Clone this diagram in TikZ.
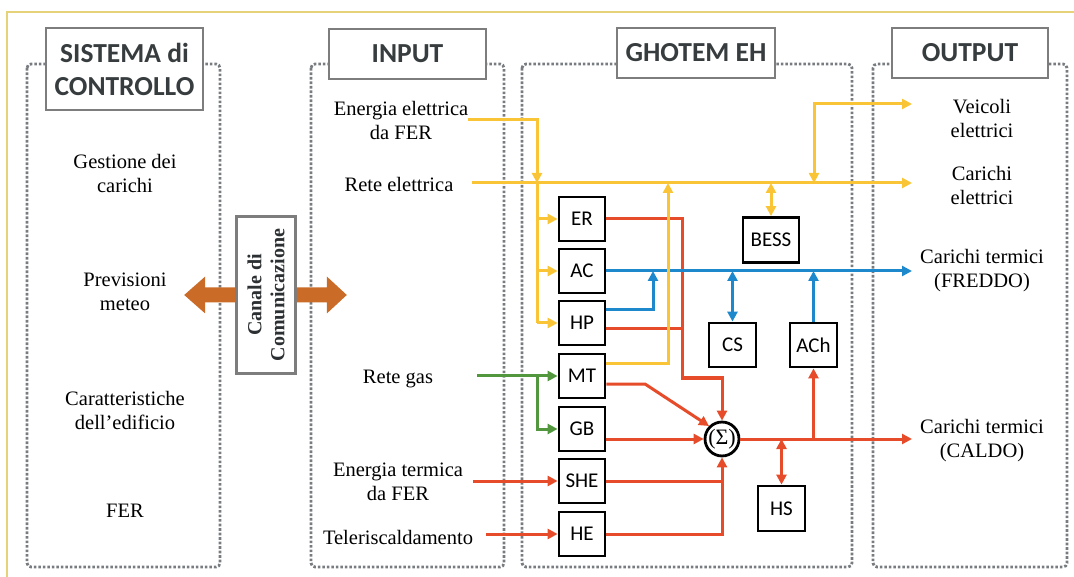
\documentclass[tikz,border=0pt]{standalone}
\usepackage{fontspec}
\setmainfont{Liberation Serif}
\newfontfamily\carl{Carlito}
\usetikzlibrary{arrows.meta}
\definecolor{cyel}{RGB}{249,196,54}
\definecolor{cred}{RGB}{230,76,42}
\definecolor{cblu}{RGB}{30,136,204}
\definecolor{cgrn}{RGB}{82,150,62}
\definecolor{corg}{RGB}{202,108,40}
\definecolor{pgray}{RGB}{120,124,128}
\definecolor{tbord}{RGB}{125,125,125}
\definecolor{ttext}{RGB}{55,60,62}
\definecolor{framey}{RGB}{230,210,120}
\begin{document}
\begin{tikzpicture}[x=1pt,y=-1pt,
  >={Triangle[length=10pt,width=10pt]},
  lab/.style={font=\fontsize{20.5}{24}\selectfont, align=center, inner sep=0pt},
  ttl/.style={draw=tbord, line width=2.6pt, fill=white, text=ttext, font=\carl\bfseries\fontsize{27.5}{33}\selectfont, align=center, inner sep=0pt},
  dev/.style={draw=black, line width=2.8pt, fill=white, minimum width=46pt, minimum height=44pt, inner sep=0pt, font=\carl\fontsize{21}{21}\selectfont},
  panel/.style={draw=pgray, line width=2.8pt, dash pattern=on 2.6pt off 1.9pt, rounded corners=4pt},
  wy/.style={draw=cyel, line width=3pt},
  wr/.style={draw=cred, line width=3pt},
  wb/.style={draw=cblu, line width=3pt},
  wg/.style={draw=cgrn, line width=3pt},
  fat/.style={fill=corg, draw=none}
]
\useasboundingbox (0,0) rectangle (1074,577);
% frame
\draw[framey, line width=2pt] (7,577) -- (7,12) -- (1074,12);
% panels
\draw[panel] (27,64) rectangle (220,567);
\draw[panel] (311,64) rectangle (504,567);
\draw[panel] (522,64) rectangle (852,567);
\draw[panel] (873,64) rectangle (1067,567);
% titles
\node[ttl, minimum width=157pt, minimum height=82pt] (tsc) at (124.5,69) {SISTEMA di\\CONTROLLO};
\node[ttl, minimum width=157pt, minimum height=50pt] (tin) at (407.5,54) {INPUT};
\node[ttl, minimum width=158pt, minimum height=50pt] (tgh) at (696,53) {GHOTEM EH};
\node[ttl, minimum width=156pt, minimum height=50pt] (tout) at (970,53) {OUTPUT};
% control labels
\node[lab] (gest) at (125,173) {Gestione dei\\carichi};
\node[lab] (prev) at (125,292) {Previsioni\\meteo};
\node[lab] (cara) at (125,410) {Caratteristiche\\dell’edificio};
\node[lab] (fer) at (125,511) {FER};
% communication channel
\node[draw=tbord, line width=2.6pt, fill=white, rotate=90, minimum width=157pt, minimum height=59pt, inner sep=0pt, align=center, font=\bfseries\fontsize{20}{23}\selectfont, text=ttext!80!black] (can) at (266,295) {Canale di\\Comunicazione};
\fill[fat] (can.north) ++(0,-7.5) -- ++(-30,0) -- ++(0,-11) -- ++(-21,18.5) -- ++(21,18.5) -- ++(0,-11) -- ++(30,0) -- cycle;
\fill[fat] (can.south) ++(0,-7.5) -- ++(30,0) -- ++(0,-11) -- ++(20,18.5) -- ++(-20,18.5) -- ++(0,-11) -- ++(-30,0) -- cycle;
% input labels
\node[lab] (efer) at (401,120) {Energia elettrica\\da FER};
\node[lab] (rete) at (399,184) {Rete elettrica};
\node[lab] (gas) at (398,379) {Rete gas};
\node[lab] (tfer) at (398,482) {Energia termica\\da FER};
\node[lab] (tlr) at (398,537) {Teleriscaldamento};
% output labels
\node[lab] (ove) at (982,118) {Veicoli\\elettrici};
\node[lab] (oce) at (982,185) {Carichi\\elettrici};
\node[lab] (ofr) at (982,271) {Carichi termici\\(FREDDO)};
\node[lab] (oca) at (982,441) {Carichi termici\\(CALDO)};
% devices
\node[dev] (ER) at (582,219) {ER};
\node[dev] (AC) at (582,271) {AC};
\node[dev] (HP) at (582,323) {HP};
\node[dev] (MT) at (582,376) {MT};
\node[dev] (GB) at (582,429) {GB};
\node[dev] (SHE) at (582,481) {SHE};
\node[dev] (HE) at (582,534) {HE};
\node[dev, minimum width=56pt, minimum height=45pt] (BESS) at (771,240) {BESS};
\node[dev, minimum width=47pt] (CS) at (732.5,345) {CS};
\node[dev, minimum width=47pt] (ACh) at (813.5,345) {ACh};
\node[dev, minimum width=47pt, minimum height=45pt] (HS) at (781.5,508.5) {HS};
\node[draw=black, line width=2.8pt, fill=white, circle, minimum size=33pt, inner sep=0pt, font=\fontsize{22}{22}\selectfont] (sig) at (722,439) {(Σ)};
% coordinates
\coordinate (yv) at (537,183);
\coordinate (yv2) at (668,183);
\coordinate (vb) at (814,183);
\coordinate (rv) at (682,378);
\coordinate (bv) at (653,271);
\coordinate (mk) at (645,384);
\coordinate (oVE) at (912,104);
\coordinate (oCE) at (912,183);
\coordinate (oFR) at (912,271);
\coordinate (oCA) at (912,439);
% red lines
\draw[wr,->] (ER.east) -| (rv) -| (sig.north);
\draw[wr] ([yshift=-6pt]HP.east) -- ([yshift=-6pt]HP.east -| rv);
\draw[wr,->] ([yshift=-8pt]MT.east) -- (mk) -- (sig.north west);
\draw[wr,->] (sig.west -| GB.east) -- (sig.west);
\draw[wr,->] (SHE.east) -| (sig.south);
\draw[wr] (HE.east) -| (SHE.east -| sig.south);
\draw[wr,->] (sig.east) -- (oCA);
\draw[wr,->] (ACh.south |- sig.east) -- (ACh.south);
\draw[wr,<->] (HS.north |- sig.east) -- (HS.north);
\draw[wr,->] ([xshift=10pt]tfer.east |- SHE.west) -- (SHE.west);
\draw[wr,->] ([xshift=13pt]tlr.east |- HE.west) -- (HE.west);
% blue lines
\draw[wb,->] (AC.east) -- (oFR);
\draw[wb,->] ([yshift=13pt]HP.east) -| (bv);
\draw[wb,<->] (CS.north |- AC.east) -- (CS.north);
\draw[wb,->] (ACh.north) -- (ACh.north |- AC.east);
% green lines
\draw[wg,->] ([xshift=44pt]gas.east |- MT.west) -- (MT.west);
\draw[wg,->] (MT.west -| yv) |- (GB.west);
% yellow lines
\draw[wy,->] ([xshift=18pt]rete.east |- yv) -- (oCE);
\draw[wy,->] (efer.east) -| (yv);
\draw[wy] (yv) -- (HP.west -| yv);
\draw[wy,->] (ER.west -| yv) -- (ER.west);
\draw[wy,->] (AC.west -| yv) -- (AC.west);
\draw[wy,->] (HP.west -| yv) -- (HP.west);
\draw[wy,->] ([yshift=12pt]MT.east) -| (yv2);
\draw[wy,<->] (BESS.north |- yv) -- (BESS.north);
\draw[wy,<->] (vb) |- (oVE);
\end{tikzpicture}
\end{document}
